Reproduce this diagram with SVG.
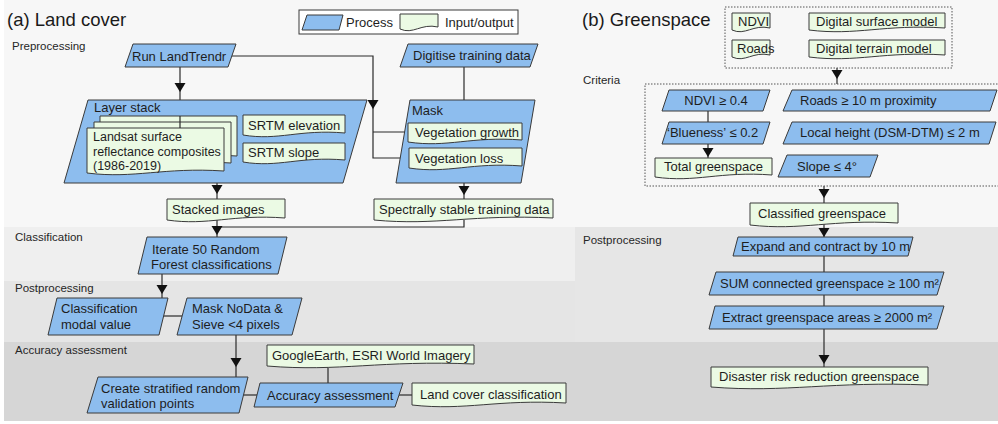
<svg xmlns="http://www.w3.org/2000/svg" width="998" height="424" viewBox="0 0 998 424">
<style>
.p{fill:#8dbdee;stroke:#3a3a3a;stroke-width:1}
.d{fill:#ebfae4;stroke:#3a3a3a;stroke-width:1}
text{font-family:"Liberation Sans",Arial,sans-serif;font-size:13px;fill:#1e1e1e}
.lbl{font-size:11.5px;fill:#262626}
.ttl{font-size:18.5px;fill:#1a1a1a}
.sm{font-size:12.5px}
.c{fill:none;stroke:#2a2a2a;stroke-width:1.2}
.a{fill:#111}
.dot{fill:none;stroke:#555;stroke-width:1;stroke-dasharray:1.5 1.5}
</style>
<g id="background">
<rect x="0" y="0" width="998" height="424" fill="#ffffff"/>
<rect x="4" y="0" width="994" height="421" fill="#f7f7f7"/>
<rect x="4" y="227" width="571" height="54" fill="#efefef"/>
<rect x="4" y="281" width="571" height="61" fill="#e5e5e5"/>
<rect x="575" y="227" width="423" height="115" fill="#e6e6e6"/>
<rect x="4" y="342" width="994" height="79" fill="#d6d6d6"/>
</g>
<g id="labels">
<text class="ttl" x="7" y="26">(a) Land cover</text>
<text class="ttl" x="582" y="26">(b) Greenspace</text>
<text class="lbl" x="12" y="50">Preprocessing</text>
<text class="lbl" x="15" y="241">Classification</text>
<text class="lbl" x="15" y="292">Postprocessing</text>
<text class="lbl" x="15" y="354">Accuracy assessment</text>
<text class="lbl" x="583" y="84">Criteria</text>
<text class="lbl" x="583" y="244">Postprocessing</text>
</g>
<g id="legend">
<rect x="299" y="10" width="219" height="24" fill="#ffffff" stroke="#3a3a3a" stroke-width="1"/>
<polygon class="p" points="307,15 343,15 339,30 302,30"/>
<text x="346" y="27">Process</text>
<path class="d" d="M400,14 H438 V27 C420.9,23 413.3,35 400,29 Z"/>
<text x="445" y="27">Input/output</text>
</g>
<g id="connectors">
<path class="c" d="M180,67 V128"/>
<polygon class="a" points="174.5,83 185.5,83 180,92"/>
<path class="c" d="M230,56 H373 V158 H409 M373,132 H408"/>
<polygon class="a" points="367.5,100 378.5,100 373,109"/>
<path class="c" d="M464,67 V100"/>
<path class="c" d="M464,183 V199"/>
<polygon class="a" points="458.5,186 469.5,186 464,195"/>
<path class="c" d="M217,183 V199"/>
<polygon class="a" points="211.5,185 222.5,185 217,194"/>
<path class="c" d="M217,220 V237 M464,220 V227 H217"/>
<polygon class="a" points="211.5,226 222.5,226 217,235"/>
<path class="c" d="M162,274 V298"/>
<polygon class="a" points="156.5,285 167.5,285 162,294"/>
<path class="c" d="M163,316 H182"/>
<path class="c" d="M236,335 V377"/>
<polygon class="a" points="230.5,358 241.5,358 236,367"/>
<path class="c" d="M243,395 H257"/>
<path class="c" d="M399,395 H412"/>
<path class="c" d="M328,367 V383"/>
<path class="c" d="M837,68 V84"/>
<polygon class="a" points="831.5,70 842.5,70 837,79"/>
<path class="c" d="M708,111 V122"/>
<path class="c" d="M708,144 V158"/>
<polygon class="a" points="702.5,148 713.5,148 708,157"/>
<path class="c" d="M824,186 V203"/>
<polygon class="a" points="818.5,189 829.5,189 824,198"/>
<path class="c" d="M824,224 V237"/>
<polygon class="a" points="818.5,228 829.5,228 824,237"/>
<path class="c" d="M824,256 V272"/>
<path class="c" d="M824,295 V306"/>
<path class="c" d="M824,329 V367"/>
<polygon class="a" points="818.5,355 829.5,355 824,364"/>
</g>
<g id="run-landtrendr">
<polygon class="p" points="133,44 236,44 228,67 125,67"/>
<text x="132" y="61">Run LandTrendr</text>
</g>
<g id="digitise-training-data">
<polygon class="p" points="408,44 538,44 530,67 400,67"/>
<text x="413" y="60">Digitise training data</text>
</g>
<g id="layer-stack">
<polygon class="p" points="88,100 367,100 343,183 64,183"/>
<text x="94" y="112">Layer stack</text>
</g>
<g id="landsat">
<path class="d" d="M100,116 H237 V156 C175.35,152 147.95,164 100,158 Z"/>
<path class="d" d="M94,122 H231 V163 C169.35,159 141.95,171 94,165 Z"/>
<path class="d" d="M87,128 H224 V171 C162.35,167 134.95,179 87,173 Z"/>
<path class="c" d="M180,116 V128"/>
<text class="sm" x="93" y="141">Landsat surface</text>
<text class="sm" x="93" y="155.5">reflectance composites</text>
<text class="sm" x="93" y="170">(1986-2019)</text>
</g>
<g id="srtm-elevation">
<path class="d" d="M243,115 H345 V133 C299.1,129 278.7,141 243,135 Z"/>
<text x="248" y="130">SRTM elevation</text>
</g>
<g id="srtm-slope">
<path class="d" d="M243,143 H345 V160 C299.1,156 278.7,168 243,162 Z"/>
<text x="248" y="157">SRTM slope</text>
</g>
<g id="mask">
<polygon class="p" points="410,100 535,100 521,183 396,183"/>
<text x="412" y="115">Mask</text>
</g>
<g id="vegetation-growth">
<path class="d" d="M408,123 H522 V140 C470.7,136 447.9,148 408,142 Z"/>
<text x="415" y="137">Vegetation growth</text>
</g>
<g id="vegetation-loss">
<path class="d" d="M409,148 H522 V166 C471.15,162 448.55,174 409,168 Z"/>
<text x="415" y="163">Vegetation loss</text>
</g>
<g id="stacked-images">
<path class="d" d="M167,199 H285 V218 C231.9,214 208.3,226 167,220 Z"/>
<text x="172" y="214">Stacked images</text>
</g>
<g id="spectrally-stable">
<path class="d" d="M374,199 H553 V218 C472.45,214 436.65,226 374,220 Z"/>
<text x="379" y="214">Spectrally stable training data</text>
</g>
<g id="iterate">
<polygon class="p" points="147,237 287,237 278,274 138,274"/>
<text x="152" y="254">Iterate 50 Random</text>
<text x="151" y="269">Forest classifications</text>
</g>
<g id="classification-modal">
<polygon class="p" points="57,298 168,298 159,335 48,335"/>
<text x="61" y="313">Classification</text>
<text x="61" y="329">modal value</text>
</g>
<g id="mask-nodata">
<polygon class="p" points="187,298 302,298 292,335 177,335"/>
<text x="192" y="313">Mask NoData &amp;</text>
<text x="192" y="329">Sieve &lt;4 pixels</text>
</g>
<g id="create-stratified">
<polygon class="p" points="98,377 248,377 239,413 87,413"/>
<text x="101" y="393">Create stratified random</text>
<text x="101" y="408">validation points</text>
</g>
<g id="googleearth">
<path class="d" d="M267,345 H474 V364 C380.85,360 339.45,372 267,366 Z"/>
<text x="272" y="360">GoogleEarth, ESRI World Imagery</text>
</g>
<g id="accuracy-assessment">
<polygon class="p" points="260,383 403,383 395,407 254,407"/>
<text x="267" y="400">Accuracy assessment</text>
</g>
<g id="land-cover-classification">
<path class="d" d="M412,383 H566 V403 C496.7,399 465.9,411 412,405 Z"/>
<text x="420" y="399">Land cover classification</text>
</g>
<g id="inputs-b">
<rect class="dot" x="725" y="7" width="227" height="61"/>
<path class="d" d="M732,13 H770 V28 C752.9,24 745.3,36 732,30 Z"/>
<text x="738" y="26">NDVI</text>
<path class="d" d="M809,13 H945 V28 C883.8,24 856.6,36 809,30 Z"/>
<text x="816" y="26">Digital surface model</text>
<path class="d" d="M732,40 H770 V55 C752.9,51 745.3,63 732,57 Z"/>
<text x="737" y="53">Roads</text>
<path class="d" d="M809,40 H945 V55 C883.8,51 856.6,63 809,57 Z"/>
<text x="816" y="53">Digital terrain model</text>
</g>
<g id="criteria">
<rect class="dot" x="645" y="84" width="360" height="102"/>
</g>
<g id="ndvi-threshold">
<polygon class="p" points="669,90 770,90 763,111 662,111"/>
<text x="716" y="105" text-anchor="middle">NDVI ≥ 0.4</text>
</g>
<g id="roads-proximity">
<polygon class="p" points="792,90 997,90 990,111 783,111"/>
<text x="800" y="105">Roads ≥ 10 m proximity</text>
</g>
<g id="blueness">
<polygon class="p" points="669,122 770,122 763,144 662,144"/>
<text x="667" y="137">‘Blueness’ ≤ 0.2</text>
</g>
<g id="local-height">
<polygon class="p" points="792,122 996,122 989,144 783,144"/>
<text x="800" y="137">Local height (DSM-DTM) ≤ 2 m</text>
</g>
<g id="total-greenspace">
<path class="d" d="M655,158 H772 V175 C719.35,171 695.95,183 655,177 Z"/>
<text x="664" y="171">Total greenspace</text>
</g>
<g id="slope">
<polygon class="p" points="787,155 878,155 870,177 778,177"/>
<text x="797" y="171">Slope ≤ 4°</text>
</g>
<g id="classified-greenspace">
<path class="d" d="M750,203 H898 V223 C831.4,219 801.8,231 750,225 Z"/>
<text x="758" y="218">Classified greenspace</text>
</g>
<g id="expand-contract">
<polygon class="p" points="738,237 913,237 908,256 733,256"/>
<text x="741" y="251">Expand and contract by 10 m</text>
</g>
<g id="sum-connected">
<polygon class="p" points="716,272 944,272 937,295 709,295"/>
<text x="720" y="288">SUM connected greenspace ≥ 100 m²</text>
</g>
<g id="extract-areas">
<polygon class="p" points="715,306 944,306 937,329 709,329"/>
<text x="722" y="322">Extract greenspace areas ≥ 2000 m²</text>
</g>
<g id="disaster-risk">
<path class="d" d="M711,367 H928 V385 C830.35,381 786.95,393 711,387 Z"/>
<text x="719" y="381">Disaster risk reduction greenspace</text>
</g>
</svg>
